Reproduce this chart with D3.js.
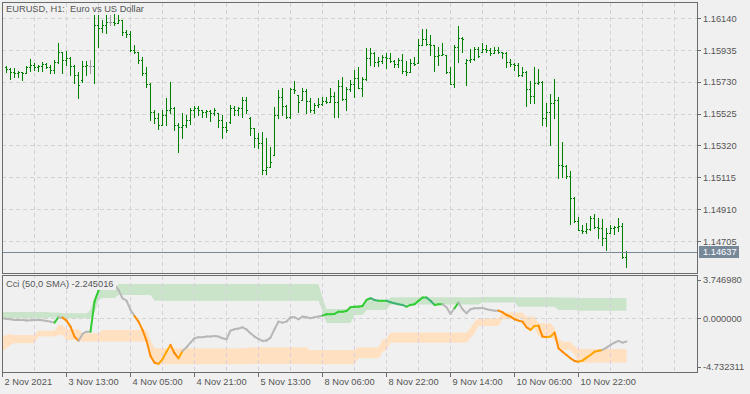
<!DOCTYPE html>
<html lang="en">
<head>
<meta charset="UTF-8">
<title>EURUSD H1 with CCI</title>
<script src="https://d3js.org/d3.v7.min.js"></script>
<style>
  html, body { margin: 0; padding: 0; background: #f0f0f0; }
  svg { display: block; font-family: "Liberation Sans", Arial, sans-serif; }
</style>
</head>
<body>
<div id="chart"></div>
<script>
// hourly OHLC, bars 1..156
const barOpen = [
  1.15827,1.15814,1.15794,1.15788,1.15794,1.15788,1.15827,1.15839,1.15827,1.15833,
  1.15846,1.15827,1.15807,1.15859,1.15923,1.15872,1.15884,1.15833,1.15775,1.15743,
  1.15833,1.15833,1.15833,1.16097,1.16078,1.16097,1.16116,1.16116,1.16110,1.16129,
  1.16052,1.16039,1.15936,1.15923,1.15872,1.15788,1.15717,1.15537,1.15498,1.15453,
  1.15517,1.15550,1.15562,1.15453,1.15440,1.15453,1.15485,1.15550,1.15562,1.15550,
  1.15537,1.15543,1.15530,1.15530,1.15485,1.15440,1.15472,1.15562,1.15550,1.15562,
  1.15614,1.15498,1.15434,1.15369,1.15337,1.15163,1.15183,1.15260,1.15517,1.15633,
  1.15575,1.15505,1.15685,1.15646,1.15614,1.15672,1.15608,1.15550,1.15582,1.15588,
  1.15608,1.15601,1.15640,1.15601,1.15704,1.15620,1.15685,1.15717,1.15756,1.15691,
  1.15749,1.15884,1.15917,1.15859,1.15865,1.15891,1.15884,1.15865,1.15846,1.15872,
  1.15801,1.15794,1.15852,1.15852,1.15968,1.16007,1.15975,1.15968,1.15897,1.15904,
  1.15904,1.15794,1.15717,1.15955,1.16013,1.15852,1.15872,1.15878,1.15942,1.15923,
  1.15942,1.15936,1.15917,1.15936,1.15923,1.15917,1.15859,1.15846,1.15839,1.15775,
  1.15794,1.15685,1.15640,1.15723,1.15730,1.15498,1.15537,1.15595,1.15614,1.15195,
  1.15189,1.15125,1.14983,1.14835,1.14777,1.14770,1.14783,1.14854,1.14796,1.14790,
  1.14725,1.14757,1.14790,1.14796,1.14803,1.14603
];
const barHigh = [
  1.15833,1.15820,1.15820,1.15801,1.15794,1.15833,1.15878,1.15852,1.15839,1.15859,
  1.15852,1.15839,1.15872,1.15981,1.15923,1.15930,1.15891,1.15839,1.15794,1.15865,
  1.15865,1.15872,1.16161,1.16161,1.16129,1.16161,1.16161,1.16168,1.16161,1.16129,
  1.16065,1.16058,1.15968,1.15923,1.15891,1.15827,1.15723,1.15550,1.15530,1.15550,
  1.15627,1.15730,1.15569,1.15466,1.15530,1.15517,1.15562,1.15575,1.15575,1.15550,
  1.15550,1.15550,1.15562,1.15530,1.15517,1.15472,1.15582,1.15575,1.15569,1.15633,
  1.15633,1.15505,1.15434,1.15401,1.15408,1.15369,1.15311,1.15569,1.15678,1.15691,
  1.15582,1.15691,1.15736,1.15646,1.15691,1.15685,1.15627,1.15595,1.15627,1.15633,
  1.15633,1.15691,1.15666,1.15743,1.15762,1.15698,1.15743,1.15807,1.15827,1.15762,
  1.15949,1.15949,1.15923,1.15891,1.15904,1.15917,1.15917,1.15872,1.15884,1.15910,
  1.15865,1.15878,1.15891,1.16007,1.16071,1.16071,1.16033,1.15968,1.15955,1.15981,
  1.15904,1.15827,1.15968,1.16091,1.16020,1.15878,1.15942,1.15955,1.15955,1.15981,
  1.15968,1.15949,1.15955,1.15955,1.15923,1.15923,1.15878,1.15852,1.15852,1.15827,
  1.15801,1.15736,1.15827,1.15814,1.15736,1.15595,1.15653,1.15749,1.15633,1.15344,
  1.15195,1.15157,1.14989,1.14861,1.14809,1.14822,1.14867,1.14880,1.14854,1.14848,
  1.14790,1.14809,1.14803,1.14854,1.14822,1.14642
];
const barLow = [
  1.15794,1.15749,1.15762,1.15762,1.15743,1.15788,1.15801,1.15807,1.15801,1.15801,
  1.15820,1.15788,1.15788,1.15852,1.15788,1.15839,1.15775,1.15723,1.15627,1.15730,
  1.15775,1.15788,1.15723,1.15955,1.16052,1.16045,1.16097,1.16097,1.16110,1.16033,
  1.16020,1.15930,1.15917,1.15852,1.15775,1.15698,1.15485,1.15466,1.15427,1.15453,
  1.15453,1.15530,1.15421,1.15279,1.15369,1.15440,1.15459,1.15505,1.15517,1.15505,
  1.15505,1.15479,1.15517,1.15440,1.15369,1.15408,1.15466,1.15517,1.15517,1.15505,
  1.15530,1.15389,1.15311,1.15305,1.15137,1.15137,1.15183,1.15260,1.15498,1.15517,
  1.15498,1.15498,1.15659,1.15537,1.15614,1.15530,1.15537,1.15530,1.15569,1.15582,
  1.15595,1.15601,1.15505,1.15505,1.15614,1.15550,1.15672,1.15633,1.15691,1.15640,
  1.15743,1.15839,1.15833,1.15833,1.15852,1.15820,1.15859,1.15827,1.15827,1.15788,
  1.15775,1.15794,1.15839,1.15852,1.15968,1.15968,1.15904,1.15801,1.15839,1.15904,
  1.15788,1.15717,1.15698,1.15859,1.15923,1.15711,1.15859,1.15872,1.15891,1.15923,
  1.15923,1.15904,1.15917,1.15917,1.15884,1.15827,1.15833,1.15807,1.15769,1.15769,
  1.15575,1.15595,1.15595,1.15717,1.15453,1.15447,1.15324,1.15498,1.15112,1.15118,
  1.15112,1.14815,1.14828,1.14777,1.14757,1.14757,1.14777,1.14790,1.14725,1.14680,
  1.14648,1.14757,1.14751,1.14770,1.14596,1.14539
];
const barClose = [
  1.15814,1.15794,1.15788,1.15794,1.15788,1.15827,1.15839,1.15827,1.15833,1.15846,
  1.15827,1.15807,1.15859,1.15923,1.15872,1.15884,1.15833,1.15775,1.15711,1.15833,
  1.15839,1.15833,1.16097,1.16078,1.16097,1.16116,1.16116,1.16110,1.16129,1.16052,
  1.16039,1.15936,1.15923,1.15872,1.15788,1.15717,1.15537,1.15498,1.15453,1.15517,
  1.15550,1.15562,1.15453,1.15440,1.15453,1.15485,1.15550,1.15562,1.15550,1.15537,
  1.15543,1.15530,1.15550,1.15485,1.15440,1.15421,1.15562,1.15550,1.15562,1.15614,
  1.15550,1.15434,1.15369,1.15337,1.15163,1.15183,1.15215,1.15517,1.15633,1.15575,
  1.15505,1.15685,1.15678,1.15601,1.15672,1.15608,1.15550,1.15582,1.15588,1.15608,
  1.15601,1.15640,1.15601,1.15704,1.15620,1.15685,1.15717,1.15756,1.15691,1.15749,
  1.15884,1.15917,1.15859,1.15865,1.15891,1.15884,1.15865,1.15846,1.15872,1.15801,
  1.15794,1.15852,1.15846,1.15968,1.16007,1.15975,1.15968,1.15897,1.15904,1.15910,
  1.15794,1.15717,1.15955,1.16013,1.16007,1.15872,1.15878,1.15942,1.15897,1.15942,
  1.15936,1.15917,1.15936,1.15923,1.15917,1.15859,1.15846,1.15839,1.15775,1.15794,
  1.15685,1.15640,1.15723,1.15730,1.15498,1.15537,1.15595,1.15614,1.15195,1.15189,
  1.15125,1.14983,1.14835,1.14777,1.14770,1.14783,1.14854,1.14796,1.14790,1.14725,
  1.14757,1.14790,1.14796,1.14803,1.14603,1.14637
];

// CCI (50, 0 SMA) and its floating levels, bars 0..156
const cciValue = [
  0.02,-0.05,-0.08,-0.15,-0.15,-0.15,-0.21,-0.18,-0.15,-0.15,
  -0.18,-0.24,-0.31,-0.41,0.12,0.08,-0.21,-0.80,-1.77,-2.19,
  -1.51,-1.29,-1.29,1.64,2.71,3.27,3.51,3.56,3.27,2.78,
  1.97,1.73,0.83,0.24,-0.31,-1.12,-2.16,-3.65,-4.31,-4.43,
  -3.98,-3.24,-2.58,-3.39,-3.88,-3.17,-2.81,-2.36,-1.93,-1.83,
  -1.83,-1.77,-1.77,-1.71,-1.77,-1.93,-2.03,-1.19,-1.05,-0.99,
  -0.86,-1.07,-1.44,-1.77,-2.00,-2.19,-2.16,-1.87,-1.05,-0.31,
  -0.41,-0.31,0.12,0.12,-0.08,0.18,0.12,0.02,0.12,0.18,
  0.27,0.41,0.41,0.44,0.66,0.66,0.73,1.09,1.15,1.15,
  1.22,1.80,1.97,1.80,1.73,1.73,1.73,1.58,1.48,1.38,
  1.32,1.15,1.32,1.38,1.73,2.03,2.03,1.73,1.32,1.38,
  1.38,1.09,0.44,0.99,1.54,0.90,0.51,0.90,0.99,0.99,
  1.02,0.90,0.83,0.76,0.76,0.60,0.34,0.18,-0.08,-0.21,
  -0.31,-0.86,-1.12,-0.73,-0.70,-1.77,-1.83,-1.77,-1.38,-2.90,
  -3.24,-3.56,-3.88,-4.14,-4.21,-4.11,-3.82,-3.56,-3.24,-3.14,
  -3.07,-2.85,-2.58,-2.36,-2.19,-2.36,-2.245016
];
// 1 = above upper level, -1 = below lower level, 0 = neutral
const cciState = [
  0,0,0,0,0,0,0,0,0,0, 0,0,0,0,1,0,-1,-1,-1,-1,
  0,0,0,1,1,1,1,1,1,0, 0,0,0,0,-1,-1,-1,-1,-1,-1,
  -1,-1,-1,-1,-1,-1,0,0,0,0, 0,0,0,0,0,0,0,0,0,0,
  0,0,0,0,0,0,0,0,0,0, 0,0,0,0,0,0,0,0,0,0,
  0,1,1,1,1,1,1,1,1,1, 1,1,1,1,1,1,1,1,1,1,
  1,1,1,1,1,1,1,1,1,1, 1,0,0,0,1,0,0,0,0,0,
  0,0,0,0,0,-1,-1,-1,-1,-1, -1,-1,-1,-1,-1,-1,-1,-1,-1,-1,
  -1,-1,-1,-1,-1,-1,-1,-1,-1,-1, -1,0,0,0,0,0,0
];
const upperLevelTop = [
  0.63,0.63,0.63,0.63,0.63,0.63,0.63,0.63,0.63,0.63, 0.63,0.63,0.58,0.58,0.58,0.51,0.51,0.51,0.51,0.51,
  0.51,0.51,0.83,2.10,2.78,2.88,2.88,2.88,2.88,3.36, 3.36,3.36,3.36,3.36,3.36,3.36,3.36,3.36,3.36,3.36,
  3.36,3.36,3.36,3.36,3.36,3.36,3.36,3.36,3.36,3.36, 3.36,3.36,3.36,3.36,3.36,3.36,3.36,3.36,3.36,3.36,
  3.36,3.36,3.36,3.36,3.36,3.36,3.36,3.36,3.36,3.36, 3.36,3.36,3.36,3.36,3.36,3.36,3.36,3.36,3.36,3.36,
  2.00,0.93,0.93,0.93,0.93,0.93,0.93,0.93,1.32,1.32, 1.32,1.73,1.73,1.73,1.73,1.73,1.73,2.07,2.07,2.07,
  2.07,2.07,2.07,2.07,2.07,2.07,2.07,2.07,2.07,2.07, 2.07,2.07,2.07,2.07,2.07,2.07,2.07,2.07,2.07,2.07,
  2.10,2.10,2.10,2.10,2.10,2.10,2.10,2.10,2.10,2.07, 2.07,2.07,2.07,2.07,2.07,2.07,2.07,2.07,2.07,2.03,
  2.03,2.03,2.03,2.03,2.00,2.00,2.00,2.00,2.00,2.00, 2.00,2.00,2.00,2.00,2.00,2.00,2.00
];
const upperLevelBottom = [
  0.02,0.02,0.02,0.02,0.02,0.02,0.02,0.02,0.02,0.02, 0.02,0.02,0.10,0.10,0.10,0.02,0.02,0.02,0.02,0.02,
  0.02,0.02,0.02,0.54,1.80,2.00,2.00,2.00,2.00,2.29, 2.29,2.29,2.29,2.29,2.29,2.29,2.29,2.29,1.73,1.73,
  1.73,1.73,1.73,1.73,1.73,1.73,1.73,1.73,1.73,1.73, 1.73,1.73,1.73,1.73,1.73,1.73,1.73,1.73,1.73,1.73,
  1.73,1.73,1.73,1.73,1.73,1.73,1.73,1.73,1.73,1.73, 1.73,1.73,1.73,1.73,1.73,1.73,1.73,1.73,1.73,1.73,
  0.73,-0.44,-0.44,-0.44,-0.44,-0.44,-0.44,-0.44,0.34,0.34, 0.34,0.83,0.83,0.83,0.83,0.83,0.83,1.36,1.36,1.36,
  1.36,1.36,1.36,1.36,1.36,1.36,1.36,1.36,1.36,1.36, 1.36,1.36,1.36,1.36,1.36,1.36,1.36,1.36,1.36,1.36,
  1.56,1.56,1.56,1.56,1.56,1.56,1.56,1.56,1.56,1.15, 1.15,1.15,1.15,1.15,1.15,1.15,1.15,1.15,1.15,0.83,
  0.83,0.83,0.83,0.83,0.76,0.76,0.76,0.76,0.76,0.76, 0.76,0.76,0.76,0.76,0.76,0.76,0.76
];
const lowerLevelTop = [
  -1.77,-1.61,-1.51,-1.61,-1.61,-1.61,-1.61,-1.61,-1.61,-1.19, -1.19,-1.19,-1.19,-1.19,-0.63,-0.63,-1.05,-1.05,-1.05,-1.05,
  -1.44,-1.44,-1.44,-1.44,-1.44,-1.12,-1.12,-1.12,-1.12,-1.12, -1.12,-1.12,-1.12,-1.12,-1.12,-1.12,-1.12,-2.10,-2.90,-2.90,
  -2.90,-2.90,-2.90,-2.90,-2.90,-2.90,-2.90,-2.90,-2.90,-2.90, -2.90,-2.90,-2.90,-2.90,-2.90,-2.90,-2.90,-2.90,-2.90,-2.90,
  -2.90,-2.90,-2.81,-2.81,-2.81,-2.81,-2.81,-2.81,-2.81,-2.81, -2.81,-2.81,-2.81,-2.81,-2.81,-2.81,-2.81,-3.07,-3.07,-3.07,
  -3.07,-3.07,-3.07,-3.07,-3.07,-3.07,-3.07,-3.07,-3.07,-2.81, -2.81,-2.81,-2.81,-2.81,-2.81,-2.10,-1.93,-1.38,-1.38,-1.38,
  -1.38,-1.38,-1.38,-1.38,-1.38,-1.38,-1.38,-1.38,-1.38,-1.38, -1.38,-1.38,-1.38,-1.38,-1.38,-1.38,-1.38,-0.93,-0.31,0.02,
  0.02,0.02,0.02,0.02,0.02,0.57,0.57,0.57,0.57,0.57, 0.57,0.18,0.18,0.18,-0.47,-0.47,-0.47,-0.47,-0.93,-1.93,
  -2.26,-2.26,-2.26,-2.68,-2.97,-2.97,-2.97,-2.97,-2.97,-2.97, -2.97,-2.97,-2.97,-2.97,-2.97,-2.97,-2.97
];
const lowerLevelBottom = [
  -3.24,-2.88,-2.58,-2.42,-2.42,-2.42,-2.42,-2.42,-2.42,-1.77, -1.77,-1.77,-1.77,-1.77,-1.61,-1.61,-2.10,-2.10,-2.10,-2.10,
  -2.26,-2.26,-2.26,-2.26,-2.26,-2.26,-2.26,-2.26,-2.26,-2.26, -2.26,-2.26,-2.26,-2.26,-2.26,-2.26,-2.26,-3.56,-4.46,-4.46,
  -4.46,-4.46,-4.46,-4.46,-4.46,-4.46,-4.46,-4.46,-4.46,-4.46, -4.46,-4.46,-4.46,-4.46,-4.46,-4.46,-4.46,-4.46,-4.46,-4.46,
  -4.46,-4.46,-4.43,-4.43,-4.43,-4.43,-4.43,-4.43,-4.43,-4.43, -4.43,-4.43,-4.43,-4.43,-4.43,-4.43,-4.43,-4.46,-4.46,-4.46,
  -4.46,-4.46,-4.46,-4.46,-4.46,-4.46,-4.46,-4.46,-4.46,-3.88, -3.88,-3.88,-3.88,-3.88,-3.88,-3.27,-3.07,-2.36,-2.36,-2.36,
  -2.36,-2.36,-2.36,-2.36,-2.36,-2.36,-2.36,-2.36,-2.36,-2.36, -2.36,-2.36,-2.36,-2.36,-2.36,-2.36,-2.36,-1.90,-1.44,-0.73,
  -0.73,-0.73,-0.73,-0.73,-0.73,-0.08,-0.08,-0.08,-0.08,-0.08, -0.08,-0.96,-0.96,-0.96,-1.77,-1.77,-1.77,-1.77,-2.10,-2.68,
  -3.07,-3.07,-3.07,-3.56,-4.31,-4.31,-4.31,-4.31,-4.31,-4.31, -4.31,-4.31,-4.31,-4.31,-4.31,-4.31,-4.31
];

const priceTicks = [1.16140, 1.15935, 1.15730, 1.15525, 1.15320, 1.15115, 1.14910, 1.14705];
const lastPrice = 1.14637;
const cciTicks = [3.746980, 0.000000, -4.732311];
const timeLabels = ["2 Nov 2021", "3 Nov 13:00", "4 Nov 05:00", "4 Nov 21:00", "5 Nov 13:00",
                    "8 Nov 06:00", "8 Nov 22:00", "9 Nov 14:00", "10 Nov 06:00", "10 Nov 22:00"];
const timeLabelBars = [0, 16, 32, 48, 64, 80, 96, 112, 128, 144];

const width = 750, height = 394;
const main = { left: 2, top: 2, right: 697, bottom: 273 };
const sub = { left: 2, top: 275, right: 697, bottom: 372 };
const frameColor = "#6b6b6b", textColor = "#555", gridColor = "#d3d3d3";
const fontSize = "9.3px";

const svg = d3.select("#chart").append("svg")
    .attr("width", width)
    .attr("height", height);

svg.append("rect").attr("width", width).attr("height", height).attr("fill", "#f0f0f0");

// bar index -> pixel centre, 4px per bar
const x = d3.scaleLinear().domain([0, 1]).range([2.5, 6.5]);
const y = d3.scaleLinear().domain([1.14705, 1.16140]).range([241.5, 18.5]);
const yc = d3.scaleLinear().domain([-4.732311, 3.74698]).range([367, 280]);
const crisp = v => Math.round(v - 0.5) + 0.5;

const defs = svg.append("defs");
[["clipMain", main], ["clipSub", sub]].forEach(([id, p]) => {
    defs.append("clipPath").attr("id", id)
        .append("rect")
        .attr("x", p.left + 1).attr("y", p.top + 1)
        .attr("width", p.right - p.left - 1).attr("height", p.bottom - p.top - 1);
});

const gridBars = d3.range(8, 169, 8);

// ---- main panel ----
const gMain = svg.append("g");

gMain.selectAll(".hgrid").data(priceTicks).enter().append("line")
    .attr("x1", main.left).attr("x2", main.right)
    .attr("y1", d => crisp(y(d))).attr("y2", d => crisp(y(d)))
    .attr("stroke", gridColor).attr("stroke-dasharray", "4,3");

gMain.selectAll(".vgrid").data(gridBars).enter().append("line")
    .attr("x1", d => x(d)).attr("x2", d => x(d))
    .attr("y1", main.top + 1).attr("y2", main.bottom)
    .attr("stroke", gridColor).attr("stroke-dasharray", "4,3");

const bars = barOpen.map((o, i) => ({
    k: i + 1, o: o, h: barHigh[i], l: barLow[i], c: barClose[i]
}));

const barG = gMain.append("g").attr("clip-path", "url(#clipMain)");
const barColor = d => d.o === d.c ? "#a0a0a0" : "#008000";

barG.selectAll(".stem").data(bars).enter().append("rect")
    .attr("x", d => Math.floor(x(d.k)))
    .attr("y", d => Math.round(y(d.h)))
    .attr("width", 1)
    .attr("height", d => Math.round(y(d.l)) - Math.round(y(d.h)) + 1)
    .attr("fill", barColor);

barG.selectAll(".open").data(bars).enter().append("rect")
    .attr("x", d => Math.floor(x(d.k)) - 1)
    .attr("y", d => Math.round(y(d.o)))
    .attr("width", 1).attr("height", 1)
    .attr("fill", barColor);

barG.selectAll(".close").data(bars).enter().append("rect")
    .attr("x", d => Math.floor(x(d.k)) + 1)
    .attr("y", d => Math.round(y(d.c)))
    .attr("width", 1).attr("height", 1)
    .attr("fill", barColor);

// last price line
gMain.append("line")
    .attr("x1", main.left).attr("x2", main.right)
    .attr("y1", crisp(y(lastPrice))).attr("y2", crisp(y(lastPrice)))
    .attr("stroke", "#778899");

gMain.append("rect")
    .attr("x", main.left + 0.5).attr("y", main.top + 0.5)
    .attr("width", main.right - main.left).attr("height", main.bottom - main.top)
    .attr("fill", "none").attr("stroke", frameColor);

gMain.append("text")
    .attr("x", 6).attr("y", 9)
    .attr("dy", "0.35em")
    .style("white-space", "pre")
    .style("font-size", fontSize)
    .attr("fill", textColor)
    .text("EURUSD, H1:  Euro vs US Dollar");

// price axis
gMain.selectAll(".ptick").data(priceTicks).enter().append("line")
    .attr("x1", main.right).attr("x2", main.right + 4)
    .attr("y1", d => crisp(y(d))).attr("y2", d => crisp(y(d)))
    .attr("stroke", frameColor);

gMain.selectAll(".plabel").data(priceTicks).enter().append("text")
    .attr("x", 703).attr("y", d => y(d))
    .attr("dy", "0.35em")
    .style("font-size", fontSize)
    .attr("fill", textColor)
    .text(d => d.toFixed(5));

gMain.append("rect")
    .attr("x", 699).attr("y", Math.round(y(lastPrice)) - 6)
    .attr("width", 40).attr("height", 12)
    .attr("fill", "#778899");

gMain.append("text")
    .attr("x", 703).attr("y", y(lastPrice))
    .attr("dy", "0.35em")
    .style("font-size", fontSize)
    .attr("fill", "#ffffff")
    .text(lastPrice.toFixed(5));

// ---- CCI panel ----
const gSub = svg.append("g");
const bandG = gSub.append("g").attr("clip-path", "url(#clipSub)");
const idx = cciValue.map((v, i) => i);

bandG.append("path")
    .datum(idx)
    .attr("fill", "#cae4ca")
    .attr("d", d3.area().x(i => x(i)).y0(i => yc(upperLevelBottom[i])).y1(i => yc(upperLevelTop[i])));

bandG.append("path")
    .datum(idx)
    .attr("fill", "#ffe1c2")
    .attr("d", d3.area().x(i => x(i)).y0(i => yc(lowerLevelBottom[i])).y1(i => yc(lowerLevelTop[i])));

gSub.selectAll(".vgrid").data(gridBars).enter().append("line")
    .attr("x1", d => x(d)).attr("x2", d => x(d))
    .attr("y1", sub.top + 1).attr("y2", sub.bottom)
    .attr("stroke", "#d9cfe0").attr("stroke-dasharray", "4,3");

gSub.append("line")
    .attr("x1", sub.left).attr("x2", sub.right)
    .attr("y1", crisp(yc(0))).attr("y2", crisp(yc(0)))
    .attr("stroke", gridColor).attr("stroke-dasharray", "4,3");

const segColor = (i) => {
    const s = cciState[i], up = cciValue[i] >= cciValue[i - 1];
    if (s === 1) return up ? "#32cd32" : "#3cb371";
    if (s === -1) return up ? "#ffa500" : "#ff8c00";
    return "#b7b7b7";
};

const lineG = gSub.append("g").attr("clip-path", "url(#clipSub)");
lineG.selectAll(".seg").data(idx.slice(1)).enter().append("line")
    .attr("x1", i => x(i - 1)).attr("y1", i => yc(cciValue[i - 1]))
    .attr("x2", i => x(i)).attr("y2", i => yc(cciValue[i]))
    .attr("stroke", segColor)
    .attr("stroke-width", 2)
    .attr("stroke-linecap", "round");

const cciLabel = "Cci (50,0 SMA) " + cciValue[cciValue.length - 1].toFixed(6);
gSub.append("rect")
    .attr("x", 4).attr("y", 278)
    .attr("width", 112).attr("height", 12)
    .attr("fill", "#f0f0f0");

gSub.append("text")
    .attr("x", 6).attr("y", 284)
    .attr("dy", "0.35em")
    .style("font-size", fontSize)
    .attr("fill", textColor)
    .text(cciLabel);

gSub.append("rect")
    .attr("x", sub.left + 0.5).attr("y", sub.top + 0.5)
    .attr("width", sub.right - sub.left).attr("height", sub.bottom - sub.top)
    .attr("fill", "none").attr("stroke", frameColor);

gSub.selectAll(".ctick").data(cciTicks).enter().append("line")
    .attr("x1", sub.right).attr("x2", sub.right + 4)
    .attr("y1", d => crisp(yc(d))).attr("y2", d => crisp(yc(d)))
    .attr("stroke", frameColor);

gSub.selectAll(".clabel").data(cciTicks).enter().append("text")
    .attr("x", 703).attr("y", d => yc(d))
    .attr("dy", "0.35em")
    .style("font-size", fontSize)
    .attr("fill", textColor)
    .text(d => d.toFixed(6));

// time axis
gSub.selectAll(".ttick").data(timeLabelBars).enter().append("line")
    .attr("x1", d => x(d)).attr("x2", d => x(d))
    .attr("y1", sub.bottom).attr("y2", sub.bottom + 5)
    .attr("stroke", frameColor);

gSub.selectAll(".tlabel").data(timeLabels).enter().append("text")
    .attr("x", (d, i) => x(timeLabelBars[i]) + 2)
    .attr("y", 382)
    .attr("dy", "0.35em")
    .style("font-size", fontSize)
    .attr("fill", textColor)
    .text(d => d);
</script>
</body>
</html>
